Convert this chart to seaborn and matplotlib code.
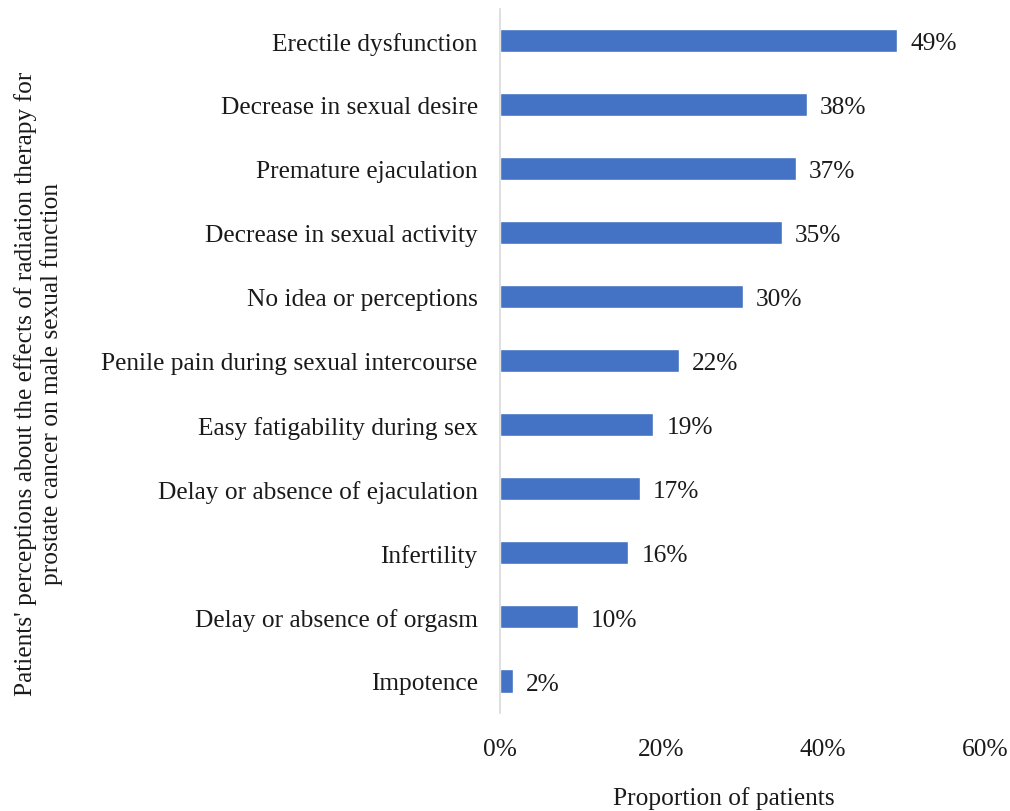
import matplotlib
matplotlib.use("Agg")
import matplotlib.pyplot as plt
import seaborn as sns
import pandas as pd
from matplotlib.ticker import PercentFormatter

# Data
categories = [
    "Erectile dysfunction",
    "Decrease in sexual desire",
    "Premature ejaculation",
    "Decrease in sexual activity",
    "No idea or perceptions",
    "Penile pain during sexual intercourse",
    "Easy fatigability during sex",
    "Delay or absence of ejaculation",
    "Infertility",
    "Delay or absence of orgasm",
    "Impotence",
]
proportions = [49.2, 38.0, 36.6, 34.9, 30.1, 22.2, 19.0, 17.3, 15.9, 9.6, 1.6]
value_labels = ["49%", "38%", "37%", "35%", "30%", "22%", "19%", "17%", "16%", "10%", "2%"]
x_ticks = [0, 20, 40, 60]

df = pd.DataFrame({"Category": categories, "Proportion": proportions})

sns.set_style("white")
plt.rcParams["font.family"] = ["Liberation Serif", "DejaVu Serif"]
FS = 18.3

fig = plt.figure(figsize=(10.1, 8.12), dpi=100)
ax = fig.add_axes([0.495, 0.1207, 0.48, 0.8673])

sns.barplot(data=df, x="Proportion", y="Category", color="#4472C4",
            saturation=1, width=0.36, ax=ax)

for i, (v, lab) in enumerate(zip(proportions, value_labels)):
    ax.text(v + 1.6, i + 0.04, lab, va="center", ha="left", fontsize=FS, color="#1a1a1a")

ax.set_xlim(0, 60)
ax.set_xticks(x_ticks)
ax.xaxis.set_major_formatter(PercentFormatter(decimals=0))
ax.tick_params(axis="x", length=0, pad=18, labelsize=FS, colors="#1a1a1a")
ax.tick_params(axis="y", length=0, pad=16, labelsize=FS, colors="#1a1a1a")

for side in ["top", "right", "bottom"]:
    ax.spines[side].set_visible(False)
ax.spines["left"].set_color("#d9d9d9")
ax.spines["left"].set_linewidth(1.2)

ax.set_xlabel("Proportion of patients", fontsize=FS, color="#1a1a1a")
ax.xaxis.set_label_coords(0.462, -0.104)
ax.set_ylabel("")
fig.text(0.038, 0.527, "Patients' perceptions about the effects of radiation therapy for\n"
         "prostate cancer on male sexual function",
         rotation=90, ha="center", va="center", fontsize=FS, color="#1a1a1a",
         linespacing=1.15, multialignment="center")

fig.savefig("out.png", dpi=100)
